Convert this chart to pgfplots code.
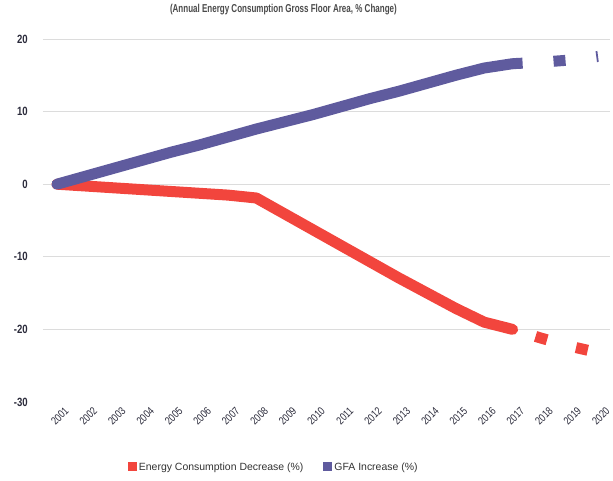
\documentclass[border=0pt]{standalone}
\usepackage{fontspec}
\setmainfont{Liberation Sans}
\newfontfamily\condfont{Liberation Sans}[FakeStretch=0.8]
\newfontfamily\titlefont{Liberation Sans}[FakeStretch=0.7]
\usepackage{pgfplots}
\usepackage{pgfplotstable}
\pgfplotsset{compat=1.18}
\definecolor{EnergyRed}{HTML}{F2453D}
\definecolor{GfaBlue}{HTML}{5F5B9E}
\definecolor{GridGray}{HTML}{DCDCDC}
\definecolor{LabelInk}{HTML}{2B2B3B}
\definecolor{TitleInk}{HTML}{4A4A4A}

% energy consumption, % change (measured part)
\pgfplotstableread{
year value
2001 0
2002 -0.25
2003 -0.5
2004 -0.75
2005 -1.0
2006 -1.25
2007 -1.5
2008 -1.9
2009 -4.1
2010 -6.3
2011 -8.5
2012 -10.7
2013 -12.9
2014 -15.0
2015 -17.1
2016 -19.0
2017 -20.0
}\energy
% energy consumption, projected part
\pgfplotstableread{
year value
2017 -20.0
2018 -21.2
2019 -22.3
2020 -23.2
}\energyproj
% gross floor area, % change (measured part)
\pgfplotstableread{
year value
2001 0
2002 1.1
2003 2.2
2004 3.3
2005 4.4
2006 5.4
2007 6.5
2008 7.6
2009 8.6
2010 9.6
2011 10.7
2012 11.8
2013 12.8
2014 13.9
2015 15.0
2016 16.0
2017 16.6
}\gfa
% gross floor area, projected part
\pgfplotstableread{
year value
2017 16.6
2018 16.8
2019 17.1
2020 17.6
}\gfaproj

\begin{document}
\begin{tikzpicture}
\begin{axis}[
    scale only axis,
    width=567bp, height=363bp,
    xmin=2000.51, xmax=2020.42,
    ymin=-30, ymax=20,
    axis line style={draw=none},
    tick style={draw=none},
    xtick={2001,...,2020},
    xticklabels={2001,2002,2003,2004,2005,2006,2007,2008,2009,2010,2011,2012,2013,2014,2015,2016,2017,2018,2019,2020},
    x tick label style={rotate=45, anchor=east, inner sep=0pt, xshift=2bp, yshift=-12bp,
        font=\condfont\fontsize{11}{11}\selectfont, text=LabelInk},
    ytick={-20,-10,0,10,20},
    extra y ticks={-30},
    extra y tick style={grid=none},
    yticklabel style={anchor=east, inner sep=0pt, xshift=-15bp,
        font=\condfont\bfseries\fontsize{12}{12}\selectfont, text=LabelInk},
    /pgf/number format/assume math mode=true,
    ymajorgrids,
    grid style={GridGray, line width=0.8bp},
    title={(Annual Energy Consumption Gross Floor Area, \% Change)},
    title style={at={(axis description cs:0.424,1.066)}, anchor=center, inner sep=0pt,
        font=\titlefont\bfseries\fontsize{11.5}{11.5}\selectfont, text=TitleInk},
    legend columns=2,
    legend style={at={(axis description cs:0.407,-0.179)}, anchor=center, draw=none,
        font=\fontsize{10.5}{10.5}\selectfont, text=black!80,
        /tikz/every even column/.append style={column sep=18bp}},
    legend image code/.code={\fill[#1, draw=none, line width=0pt] (0bp,-4.5bp) rectangle (9bp,4.5bp);},
]
\addplot[EnergyRed, line width=11bp, line cap=round, line join=round] table[x=year, y=value] {\energy};
\addlegendentry{Energy Consumption Decrease (\%)}
\addplot[GfaBlue, line width=11bp, line cap=round, line join=round] table[x=year, y=value] {\gfa};
\addlegendentry{GFA Increase (\%)}
\addplot[forget plot, EnergyRed, line width=11bp, line cap=butt,
    dash pattern=on 0bp off 24bp on 12bp off 30bp on 12bp off 100bp] table[x=year, y=value] {\energyproj};
\addplot[forget plot, GfaBlue, line width=11bp, line cap=butt,
    dash pattern=on 10bp off 31bp on 12bp off 31bp on 2bp off 100bp] table[x=year, y=value] {\gfaproj};
\end{axis}
\pgfresetboundingbox
\path (-43bp,-79bp) rectangle (570bp,402bp);
\end{tikzpicture}
\end{document}
